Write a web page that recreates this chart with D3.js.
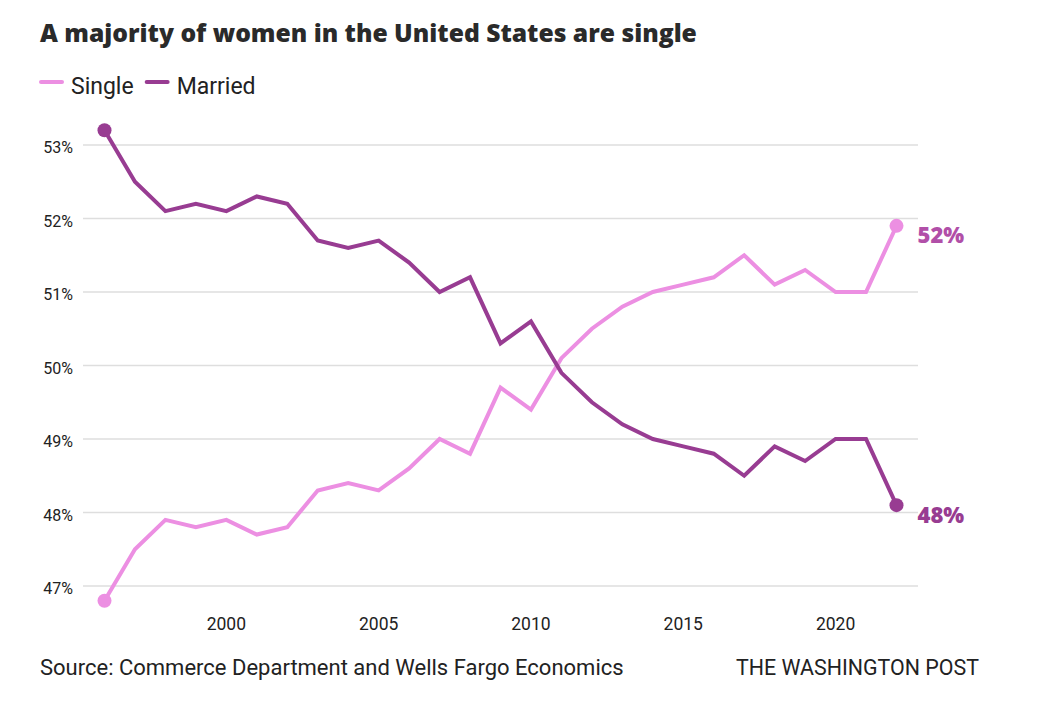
<!DOCTYPE html>
<html>
<head>
<meta charset="utf-8">
<script src="https://cdn.jsdelivr.net/npm/d3@7"></script>
<style>
  body { margin: 0; background: #fff; }
  text { font-family: "Roboto", "Liberation Sans", sans-serif; fill: #222; }
</style>
</head>
<body>
<div class="chart"></div>
<script>
const years = d3.range(1996, 2023);
const single = [46.8, 47.5, 47.9, 47.8, 47.9, 47.7, 47.8, 48.3, 48.4, 48.3, 48.6, 49.0, 48.8, 49.7,
  49.4, 50.1, 50.5, 50.8, 51.0, 51.1, 51.2, 51.5, 51.1, 51.3, 51.0, 51.0, 51.9];
const married = [53.2, 52.5, 52.1, 52.2, 52.1, 52.3, 52.2, 51.7, 51.6, 51.7, 51.4, 51.0, 51.2, 50.3,
  50.6, 49.9, 49.5, 49.2, 49.0, 48.9, 48.8, 48.5, 48.9, 48.7, 49.0, 49.0, 48.1];
const yTicks = [47, 48, 49, 50, 51, 52, 53];
const xTicks = [2000, 2005, 2010, 2015, 2020];
const seriesNames = ['Single', 'Married'];
const seriesColors = ['#ec8fe2', '#983c92'];
const labelColors = ['#b14fa8', '#983c92'];
const endLabels = ['52%', '48%'];

const width = 1056, height = 702;
const svg = d3.select('.chart').append('svg')
  .attr('width', width).attr('height', height);

const x = d3.scaleLinear().domain([1996, 2022]).range([104.5, 896.5]);
const y = d3.scaleLinear().domain([47, 53]).range([586, 145]);

// title, sized so it spans about the same width as the original
const title = svg.append('text')
  .attr('x', 40).attr('y', 42)
  .attr('font-size', 24).attr('font-weight', 800)
  .style('font-family', '"Open Sans", "Roboto", sans-serif')
  .style('fill', '#2a2a2a')
  .text('A majority of women in the United States are single');
const tw = title.node().getComputedTextLength();
title.attr('font-size', Math.min(26, 24 * 657 / tw));

// legend
const legend = svg.append('g');
let lx = 40;
seriesNames.forEach((name, i) => {
  legend.append('line')
    .attr('x1', lx + 1).attr('x2', lx + 22)
    .attr('y1', 82).attr('y2', 82)
    .attr('stroke', seriesColors[i]).attr('stroke-width', 4)
    .attr('stroke-linecap', 'round');
  const t = legend.append('text')
    .attr('x', lx + 31).attr('y', 94)
    .attr('font-size', 23)
    .text(name);
  lx += 31 + t.node().getComputedTextLength() + 12;
});

// grid + y labels
const grid = svg.append('g');
grid.selectAll('line').data(yTicks).enter().append('line')
  .attr('x1', 83).attr('x2', 918)
  .attr('y1', d => y(d)).attr('y2', d => y(d))
  .attr('stroke', '#dedede').attr('stroke-width', 1.3);
grid.selectAll('text').data(yTicks).enter().append('text')
  .attr('x', 73).attr('y', d => y(d) + 8)
  .attr('text-anchor', 'end')
  .attr('font-size', 16)
  .text(d => d + '%');

// x axis labels
svg.append('g').selectAll('text').data(xTicks).enter().append('text')
  .attr('x', d => x(d)).attr('y', 630)
  .attr('text-anchor', 'middle')
  .attr('font-size', 17.5)
  .text(d => d);

const line = d3.line()
  .x((d, i) => x(years[i]))
  .y(d => y(d));

[single, married].forEach((vals, s) => {
  svg.append('path')
    .datum(vals)
    .attr('d', line)
    .attr('fill', 'none')
    .attr('stroke', seriesColors[s])
    .attr('stroke-width', 4)
    .attr('stroke-linejoin', 'miter');
  const ends = [0, vals.length - 1];
  svg.selectAll(null).data(ends).enter().append('circle')
    .attr('cx', i => x(years[i]))
    .attr('cy', i => y(vals[i]))
    .attr('r', 7)
    .attr('fill', seriesColors[s]);
  const last = vals.length - 1;
  svg.append('text')
    .attr('x', x(years[last]) + 21)
    .attr('y', y(vals[last]) + 17.5)
    .attr('font-size', 22).attr('font-weight', 800)
    .style('font-family', '"Open Sans", "Roboto", sans-serif')
    .style('fill', labelColors[s])
    .text(endLabels[s]);
});

svg.append('text')
  .attr('x', 40).attr('y', 675)
  .attr('font-size', 22)
  .text('Source: Commerce Department and Wells Fargo Economics');
svg.append('text')
  .attr('x', 979).attr('y', 675)
  .attr('text-anchor', 'end')
  .attr('font-size', 21.4)
  .text('THE WASHINGTON POST');
</script>
</body>
</html>
